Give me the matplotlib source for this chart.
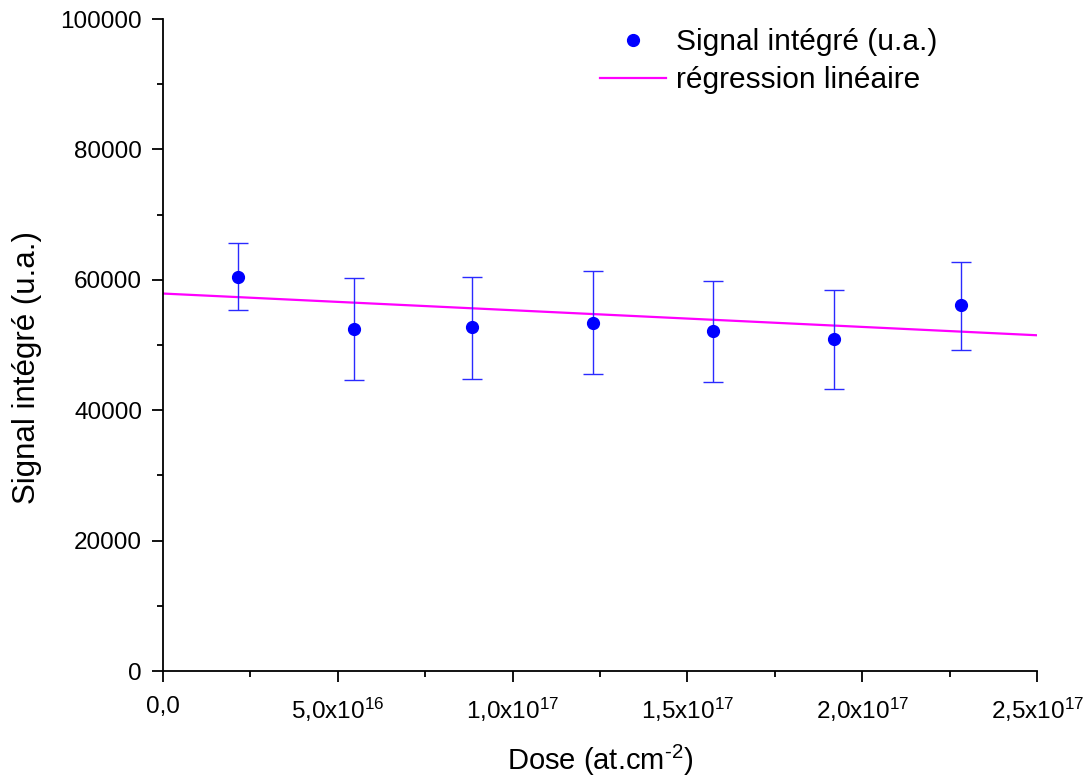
import matplotlib
matplotlib.use("Agg")
import matplotlib.pyplot as plt
from matplotlib.lines import Line2D
from matplotlib.ticker import MultipleLocator, FixedLocator, FixedFormatter

plt.rcParams['font.family'] = ['Liberation Sans', 'DejaVu Sans']
plt.rcParams['mathtext.fontset'] = 'custom'
plt.rcParams['mathtext.rm'] = 'Liberation Sans'
plt.rcParams['mathtext.it'] = 'Liberation Sans'
plt.rcParams['mathtext.bf'] = 'Liberation Sans:bold'

# Data
dose = [2.15e16, 5.46e16, 8.84e16, 1.230e17, 1.573e17, 1.919e17, 2.283e17]
signal = [60500, 52500, 52700, 53400, 52100, 50900, 56100]
err_up = [5100, 7800, 7800, 7900, 7700, 7500, 6700]
err_down = [5100, 7800, 7900, 7900, 7800, 7600, 6800]
reg_x = [0.0, 2.5e17]
reg_y = [57900, 51500]

xticks = [0, 5e16, 1e17, 1.5e17, 2e17, 2.5e17]
xticklabels = ['0,0', r'5,0x10$^{16}$', r'1,0x10$^{17}$', r'1,5x10$^{17}$',
               r'2,0x10$^{17}$', r'2,5x10$^{17}$']
yticks = [0, 20000, 40000, 60000, 80000, 100000]

blue = '#0000ff'
magenta = '#ff00ff'

fig = plt.figure(figsize=(10.86, 7.78), dpi=100)
ax = fig.add_axes([0.150, 0.1375, 0.805, 0.838])

ax.errorbar(dose, signal, yerr=[err_down, err_up], fmt='o', color=blue,
            markersize=8.5, ecolor='#2a2aff', elinewidth=1.0, capsize=7,
            capthick=1.0, zorder=3)
ax.plot(reg_x, reg_y, color=magenta, lw=1.6, zorder=2)

ax.set_xlim(0, 2.5e17)
ax.set_ylim(0, 100000)
ax.xaxis.set_major_locator(FixedLocator(xticks))
ax.xaxis.set_major_formatter(FixedFormatter(xticklabels))
ax.xaxis.set_minor_locator(MultipleLocator(2.5e16))
ax.yaxis.set_major_locator(FixedLocator(yticks))
ax.yaxis.set_minor_locator(MultipleLocator(10000))
ax.set_yticklabels([str(v) for v in yticks])

for s in ['top', 'right']:
    ax.spines[s].set_visible(False)
for s in ['left', 'bottom']:
    ax.spines[s].set_linewidth(1.3)

ax.tick_params(which='major', direction='out', length=8, width=1.3, labelsize=17.5)
ax.tick_params(axis='y', which='major', pad=7)
ax.tick_params(axis='x', which='major', pad=10)
ax.tick_params(which='minor', direction='out', length=4.5, width=1.3)

ax.set_xlabel(r'Dose (at.cm$^{\text{-}2}$)', fontsize=21)
ax.xaxis.set_label_coords(0.5, -0.11)
ax.set_ylabel('Signal intégré (u.a.)', fontsize=22.5)
ax.yaxis.set_label_coords(-0.138, 0.465)

handles = [Line2D([], [], ls='none', marker='o', color=blue, markersize=8.5),
           Line2D([], [], color=magenta, lw=1.6)]
labels = ['Signal intégré (u.a.)', 'régression linéaire']
ax.legend(handles, labels, loc='upper left', bbox_to_anchor=(0.5, 0.986),
          frameon=False, fontsize=21.5, handlelength=2.2, handletextpad=0.33,
          labelspacing=0.33, borderaxespad=0, borderpad=0)

fig.savefig('out.png', dpi=100)
